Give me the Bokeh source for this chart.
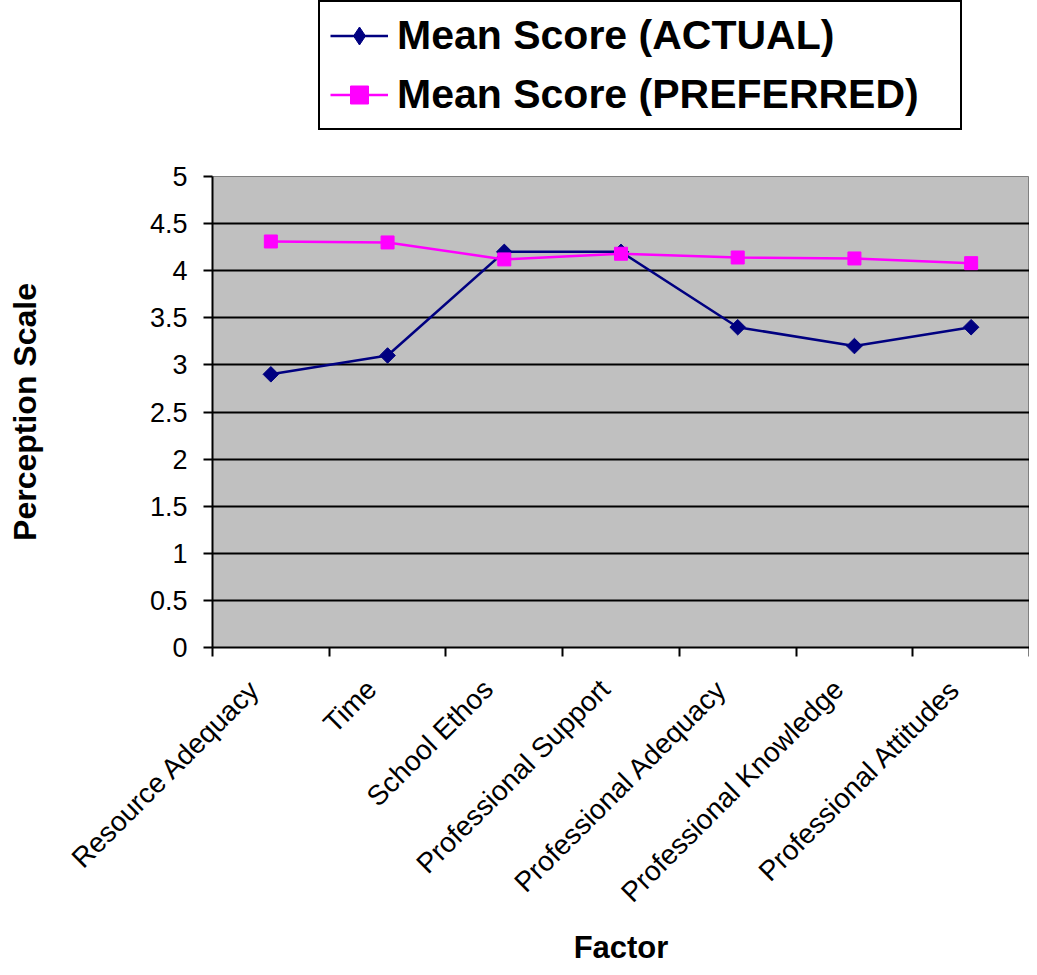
import math
from bokeh.plotting import figure
from bokeh.layouts import column
from bokeh.models import Range1d, FixedTicker, Legend, LegendItem, ColumnDataSource
from bokeh.embed import file_html
from bokeh.resources import INLINE

factors = ["Resource Adequacy", "Time", "School Ethos", "Professional Support",
           "Professional Adequacy", "Professional Knowledge", "Professional Attitudes"]
actual = [2.9, 3.1, 4.2, 4.2, 3.4, 3.2, 3.4]
preferred = [4.31, 4.30, 4.12, 4.18, 4.14, 4.13, 4.08]
series_names = ["Mean Score (ACTUAL)", "Mean Score (PREFERRED)"]
y_ticks = [0, 0.5, 1, 1.5, 2, 2.5, 3, 3.5, 4, 4.5, 5]
y_labels = ["0", "0.5", "1", "1.5", "2", "2.5", "3", "3.5", "4", "4.5", "5"]

NAVY = "#000080"
MAGENTA = "#FF00FF"
FONT = "Liberation Sans"
W = 1029
TOP_H = 150
MAIN_H = 967 - TOP_H
LEFT = 212
LABEL_SHIFT = 0.137  # rotated tick labels sit slightly left of the category centre

xpos = [i + 0.5 for i in range(len(factors))]
label_pos = [round(x - LABEL_SHIFT, 3) for x in xpos]
src = ColumnDataSource(dict(x=xpos, a=actual, p=preferred))

p = figure(width=W, height=MAIN_H, output_backend="svg", toolbar_location=None,
           x_range=Range1d(0, len(factors)), y_range=Range1d(0, 5),
           min_border_left=LEFT, min_border_right=0, min_border_top=176 - TOP_H,
           min_border_bottom=320)
p.border_fill_color = "white"
p.background_fill_color = "#C0C0C0"
p.outline_line_color = "#808080"
p.outline_line_width = 1

p.xgrid.visible = False
p.ygrid.ticker = FixedTicker(ticks=y_ticks[1:-1])
p.ygrid.grid_line_color = "black"
p.ygrid.grid_line_width = 2

ya = p.yaxis[0]
ya.ticker = FixedTicker(ticks=y_ticks)
ya.major_label_overrides = {t: l for t, l in zip(y_ticks, y_labels)}
ya.axis_line_width = 2
ya.axis_line_color = "black"
ya.major_tick_out = 9
ya.major_tick_in = 0
ya.major_tick_line_width = 2
ya.minor_tick_line_color = None
ya.major_label_text_font = FONT
ya.major_label_text_font_size = "27px"
ya.major_label_text_color = "black"
ya.major_label_standoff = 16
ya.axis_label = "Perception Scale"
ya.axis_label_text_font = FONT
ya.axis_label_text_font_style = "bold"
ya.axis_label_text_font_size = "32px"
ya.axis_label_text_color = "black"
ya.axis_label_standoff = 104

xa = p.xaxis[0]
xa.ticker = FixedTicker(ticks=label_pos, minor_ticks=list(range(len(factors) + 1)))
xa.major_label_overrides = {x: f for x, f in zip(label_pos, factors)}
xa.major_label_orientation = math.pi / 4
xa.axis_line_width = 2
xa.axis_line_color = "black"
xa.major_tick_line_color = None
xa.minor_tick_out = 9
xa.minor_tick_in = 0
xa.minor_tick_line_width = 2
xa.minor_tick_line_color = "black"
xa.major_label_text_font = FONT
xa.major_label_text_font_size = "28px"
xa.major_label_text_color = "black"
xa.major_label_standoff = 28
xa.axis_label = "Factor"
xa.axis_label_text_font = FONT
xa.axis_label_text_font_style = "bold"
xa.axis_label_text_font_size = "31px"
xa.axis_label_text_color = "black"
xa.axis_label_standoff = 8

p.line("x", "a", source=src, line_color=NAVY, line_width=2.5)
p.scatter("x", "a", source=src, marker="square", angle=math.pi / 4, size=11,
          fill_color=NAVY, line_color=NAVY)
p.line("x", "p", source=src, line_color=MAGENTA, line_width=2.5)
p.scatter("x", "p", source=src, marker="square", size=13,
          fill_color=MAGENTA, line_color=MAGENTA)

# legend panel on top: hidden copies of the series serve as legend glyphs
top = figure(width=W, height=TOP_H, output_backend="svg", toolbar_location=None,
             x_range=Range1d(0, 1), y_range=Range1d(0, 1),
             x_axis_location=None, y_axis_location=None,
             min_border_left=LEFT, min_border_right=0, min_border_top=0,
             min_border_bottom=0)
top.grid.visible = False
top.outline_line_color = None
top.background_fill_color = "white"
top.border_fill_color = "white"
l1 = top.line("x", "a", source=src, line_color=NAVY, line_width=2.5, visible=False)
s1 = top.scatter("x", "a", source=src, marker="diamond", size=17,
                 fill_color=NAVY, line_color=NAVY, visible=False)
l2 = top.line("x", "p", source=src, line_color=MAGENTA, line_width=2.5, visible=False)
s2 = top.scatter("x", "p", source=src, marker="square", size=13,
                 fill_color=MAGENTA, line_color=MAGENTA, visible=False)

legend = Legend(items=[LegendItem(label=series_names[0], renderers=[l1, s1]),
                       LegendItem(label=series_names[1], renderers=[l2, s2])],
                location=(318 - LEFT, TOP_H - 130))
legend.label_text_font = FONT
legend.label_text_font_style = "bold"
legend.label_text_font_size = "41px"
legend.label_text_color = "black"
legend.glyph_width = 58
legend.glyph_height = 45
legend.label_height = 45
legend.label_width = 553
legend.label_standoff = 9
legend.spacing = 12
legend.padding = 10
legend.margin = 0
legend.border_line_color = "black"
legend.border_line_width = 2
legend.border_line_alpha = 1
legend.background_fill_color = "white"
legend.background_fill_alpha = 1
legend.inactive_fill_alpha = 0
top.add_layout(legend)

layout = column(top, p, spacing=0)
open("out.html", "w").write(file_html(layout, INLINE))
